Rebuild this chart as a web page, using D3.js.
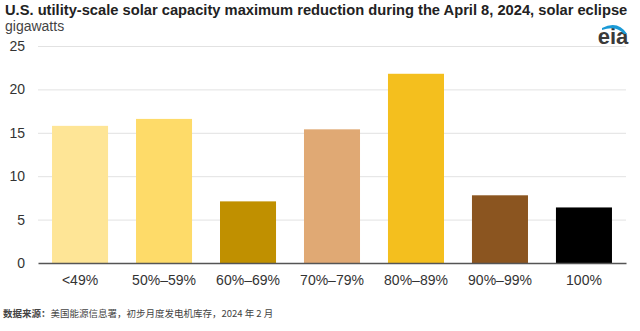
<!DOCTYPE html>
<html><head><meta charset="utf-8">
<script src="https://cdn.jsdelivr.net/npm/d3@7"></script>
<style>body{margin:0;background:#fff}svg{display:block;font-family:"Liberation Sans",Arial,sans-serif}</style>
</head><body><svg id="c" width="640" height="331"></svg>
<script>
const categories = ["<49%","50%–59%","60%–69%","70%–79%","80%–89%","90%–99%","100%"];
const values = [15.8, 16.6, 7.1, 15.4, 21.8, 7.8, 6.4];
const colors = ["#fee596","#fedb69","#c09000","#e0a974","#f4bf1e","#8b5520","#000000"];
const yTicks = [0,5,10,15,20,25];

const svg = d3.select("#c");
const m = {l:38, r:626, t:46, b:263};
const x = d3.scaleBand().domain(categories).range([m.l, m.r]).paddingInner(0.333).paddingOuter(0.167);
const y = d3.scaleLinear().domain([0,25]).range([m.b, m.t]);

svg.append("text").attr("x",5).attr("y",15).attr("font-size",14.7).attr("font-weight","bold").attr("fill","#222")
  .text("U.S. utility-scale solar capacity maximum reduction during the April 8, 2024, solar eclipse");
svg.append("text").attr("x",5).attr("y",31).attr("font-size",14).attr("fill","#444").text("gigawatts");

const yAxis = svg.append("g").attr("transform",`translate(${m.l},0)`)
  .call(d3.axisLeft(y).tickValues(yTicks).tickSize(-(m.r-m.l)).tickPadding(13));
yAxis.select(".domain").remove();
yAxis.selectAll("line").attr("stroke","#e2e2e2").attr("stroke-width",1);
yAxis.selectAll("text").attr("font-size",14).attr("fill","#333").attr("font-family","Liberation Sans, Arial, sans-serif");
yAxis.selectAll(".tick").filter(d=>d===0).select("line").remove();

svg.append("g").selectAll("rect").data(values).join("rect")
  .attr("x",(d,i)=>x(categories[i])).attr("width",x.bandwidth())
  .attr("y",d=>y(d)).attr("height",d=>y(0)-y(d))
  .attr("fill",(d,i)=>colors[i]);

const xAxis = svg.append("g").attr("transform",`translate(0,${m.b})`)
  .call(d3.axisBottom(x).tickSize(0).tickPadding(12));
xAxis.select(".domain").attr("stroke","#555").attr("stroke-width",1.5);
xAxis.selectAll("text").attr("font-size",14).attr("fill","#333").attr("font-family","Liberation Sans, Arial, sans-serif");

const src = svg.append("text").attr("x",3).attr("y",317).attr("font-size",9.5).attr("fill","#444")
  .attr("font-family","'Noto Sans CJK SC', sans-serif");
src.append("tspan").attr("font-weight","bold").text("数据来源：");
src.append("tspan").text("美国能源信息署，初步月度发电机库存，2024 年 2 月");

// eia logo
const logo = svg.append("g");
logo.append("text").attr("x",613).attr("y",44).attr("text-anchor","middle").attr("font-size",22).attr("font-weight","bold")
  .attr("fill","#3a3a3a").attr("font-family","Liberation Sans, Arial, sans-serif").text("eia");
logo.append("path").attr("d","M602,28 Q618,20 627,34 L624,34 Q616,25 602,30 Z").attr("fill","#1a9ad6");
</script></body></html>
